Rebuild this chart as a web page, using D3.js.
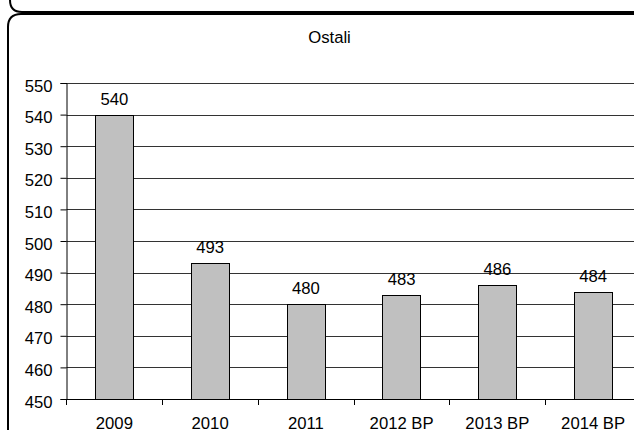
<!DOCTYPE html>
<html><head><meta charset="utf-8">
<script src="https://cdn.jsdelivr.net/npm/d3@7"></script>
<style>body{margin:0;background:#fff}svg{display:block}text{font-family:"Liberation Sans",Arial,sans-serif}</style>
</head><body>
<svg id="c" width="634" height="430"></svg>
<script>
const categories = ["2009","2010","2011","2012 BP","2013 BP","2014 BP"];
const values = [540,493,480,483,486,484];
const yTicks = [450,460,470,480,490,500,510,520,530,540,550];
const title = "Ostali";

const FS = 16.7;
const svg = d3.select("#c");
// frames
svg.append("path").attr("d","M10,-40 L10,0 Q10,12 22,12 L640,12").attr("fill","none").attr("stroke","#000").attr("stroke-width",2);
svg.append("path").attr("d","M8,440 L8,27 Q8,14 21,14 L640,14").attr("fill","none").attr("stroke","#000").attr("stroke-width",2);

const pL = 66.5, pR = 641, pT = 83, pB = 399;
const x = d3.scaleBand().domain(categories).range([pL,pR]).paddingInner(0.6).paddingOuter(0.3);
const y = d3.scaleLinear().domain([450,550]).range([pB,pT]);

// gridlines
svg.append("g").selectAll("line").data(yTicks.filter(t=>t>450)).join("line")
  .attr("x1",pL).attr("x2",pR).attr("y1",d=>Math.round(y(d))+0.5).attr("y2",d=>Math.round(y(d))+0.5)
  .attr("stroke","#333").attr("stroke-width",1);

// bars
svg.append("g").selectAll("rect").data(values).join("rect")
  .attr("x",(d,i)=>Math.round(x(categories[i]))+0.5).attr("width",Math.round(x.bandwidth()))
  .attr("y",d=>Math.round(y(d))+0.5).attr("height",d=>Math.round(y(450))-Math.round(y(d)))
  .attr("fill","#c0c0c0").attr("stroke","#000").attr("stroke-width",1);

// value labels
svg.append("g").selectAll("text").data(values).join("text")
  .attr("x",(d,i)=>x(categories[i])+x.bandwidth()/2).attr("y",d=>y(d)-10)
  .attr("text-anchor","middle").attr("font-size",FS).attr("fill","#000").text(d=>d);

// y axis
const yAxis = d3.axisLeft(y).tickValues(yTicks).tickSize(6).tickPadding(8).tickFormat(d3.format("d"));
const gy = svg.append("g").attr("transform",`translate(${pL},0)`).call(yAxis);
gy.select(".domain").attr("stroke","#000");
gy.selectAll(".tick line").attr("stroke","#000");
gy.selectAll(".tick text").attr("font-size",FS).attr("fill","#000").attr("dy","0.48em").attr("font-family",'"Liberation Sans",Arial,sans-serif');

// x axis
const xAxis = d3.axisBottom(x).tickSize(0).tickPadding(0);
const gx = svg.append("g").attr("transform",`translate(0,${pB})`).call(xAxis);
gx.select(".domain").remove();
gx.append("line").attr("x1",pL).attr("x2",pR).attr("y1",0.5).attr("y2",0.5).attr("stroke","#000");
gx.selectAll(".tick text").attr("font-size",FS).attr("fill","#000").attr("y",30).attr("dy",0).attr("font-family",'"Liberation Sans",Arial,sans-serif');
// boundary ticks
const bounds = categories.map(c=>x(c)-x.step()*x.paddingInner()/2);
gx.selectAll(".bt").data(bounds).join("line").attr("class","bt")
  .attr("x1",d=>Math.round(d)+0.5).attr("x2",d=>Math.round(d)+0.5).attr("y1",0).attr("y2",6).attr("stroke","#000");

// title
svg.append("text").attr("x",329.5).attr("y",43).attr("text-anchor","middle").attr("font-size",FS).attr("fill","#000").text(title);
</script>
</body></html>
